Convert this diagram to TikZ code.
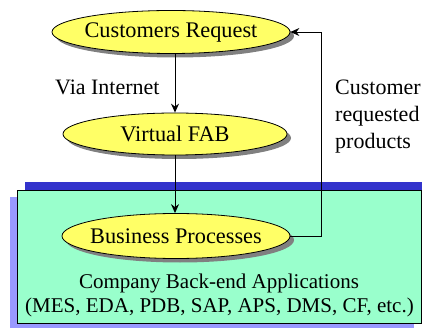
\documentclass[tikz,border=0pt]{standalone}
\usepackage{fontspec}
\setmainfont{Liberation Serif}
\usetikzlibrary{shapes.geometric,arrows.meta,shadows}
\definecolor{appgreen}{HTML}{99FFCC}
\definecolor{barblue}{HTML}{3333CC}
\definecolor{shadeblue}{HTML}{9999FF}
\definecolor{ovalyellow}{HTML}{FFFF66}
\tikzset{
  oval/.style={ellipse, draw=black, line width=0.8pt, fill=ovalyellow,
    minimum width=#1, minimum height=43pt, inner xsep=-12pt, inner ysep=0pt,
    font=\fontsize{22.3}{26}\selectfont,
    drop shadow={shadow xshift=4pt, shadow yshift=-4pt, fill=black!50, opacity=1}},
  flow/.style={draw=black, line width=0.9pt,
    -{Stealth[length=9pt,width=8pt,inset=3pt]}},
  lbl/.style={font=\fontsize{22}{27}\selectfont, inner sep=0pt},
  applbl/.style={font=\fontsize{21}{24}\selectfont, inner sep=0pt, anchor=base}
}
\begin{document}
\begin{tikzpicture}[x=1pt,y=-1pt]
\useasboundingbox (0,0) rectangle (422,328);
% back-end applications box with its blue top bar and shadow
\fill[shadeblue] (10,197) rectangle (414,330);
\fill[barblue] (25,182) rectangle (422,190);
\draw[fill=appgreen, line width=0.9pt] (17,190) rectangle (421,323.5);
\node[applbl] (apps) at (219,288) {Company Back-end Applications};
\node[applbl] (appsl) at (219.5,312) {(MES, EDA, PDB, SAP, APS, DMS, CF, etc.)};
% process ovals
\node[oval=238pt] (req) at (171,32) {Customers Request};
\node[oval=224pt, minimum height=42pt] (fab) at (175,134) {Virtual FAB};
\node[oval=228pt, minimum height=45pt] (bp) at (176,236) {Business Processes};
% connectors
\coordinate (turnlow) at (321,236);
\coordinate (turnhigh) at (321,32);
\draw[flow] (req.south -| fab.north) -- (fab.north);
\draw[flow] (fab.south) -- (bp.north -| fab.south);
\draw[flow] (bp.east) -- (turnlow) -- (turnhigh) -- (req.east);
% labels
\node[lbl, anchor=base west] (via) at (55,95) {Via Internet};
\node[lbl, anchor=north west, align=left] (prod) at (335,80)
  {Customer\\requested\\products};
\end{tikzpicture}
\end{document}
